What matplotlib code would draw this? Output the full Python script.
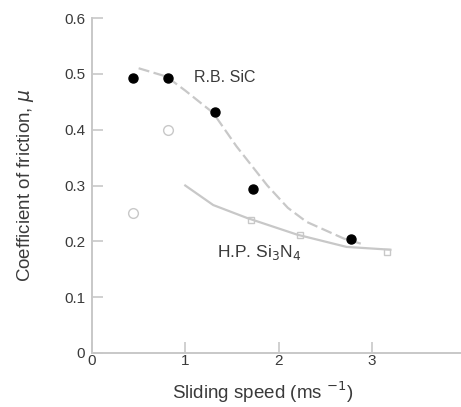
import matplotlib
matplotlib.use("Agg")
import matplotlib.pyplot as plt

# Data
sic_x = [0.44, 0.81, 1.32, 1.73, 2.78]
sic_y = [0.493, 0.493, 0.432, 0.294, 0.205]
open_circ_x = [0.44, 0.81]
open_circ_y = [0.25, 0.40]
sq_x = [1.71, 2.23, 3.16]
sq_y = [0.238, 0.211, 0.181]
sic_curve_x = [0.5, 0.8, 1.0, 1.3, 1.55, 1.88, 2.1, 2.3, 2.7, 2.9]
sic_curve_y = [0.51, 0.495, 0.47, 0.43, 0.37, 0.30, 0.26, 0.235, 0.205, 0.195]
sin_curve_x = [1.0, 1.3, 1.66, 2.2, 2.73, 3.2]
sin_curve_y = [0.30, 0.265, 0.242, 0.212, 0.19, 0.185]
xticks = [0, 1, 2, 3, 4]
yticks = [0, 0.1, 0.2, 0.3, 0.4, 0.5, 0.6]
ytick_labels = ["0", "0.1", "0.2", "0.3", "0.4", "0.5", "0.6"]

plt.rcParams['font.family'] = ['Liberation Sans', 'DejaVu Sans']
fig = plt.figure(figsize=(4.61, 4.07), dpi=100)
ax = fig.add_axes([92/461, 54/407, 373/461, 335/407])

grey = '#c8c8c8'
txt = '#3a3a3a'
ax.plot(sic_curve_x, sic_curve_y, color=grey, lw=1.6, ls=(0, (5, 2)))
ax.plot(sin_curve_x, sin_curve_y, color=grey, lw=1.6)
ax.plot(open_circ_x, open_circ_y, 'o', mfc='none', mec=grey, ms=7, mew=1.0)
ax.plot(sq_x, sq_y, 's', mfc='none', mec=grey, ms=5, mew=1.0)
ax.plot(sic_x, sic_y, 'o', color='black', ms=6.5)

ax.set_xlim(0, 4)
ax.set_ylim(0, 0.6)
ax.set_xticks(xticks)
ax.set_yticks(yticks)
ax.set_yticklabels(ytick_labels)
for s in ['top', 'right']:
    ax.spines[s].set_visible(False)
for s in ['left', 'bottom']:
    ax.spines[s].set_color(grey)
    ax.spines[s].set_linewidth(1.4)
ax.tick_params(direction='in', length=8, color=grey, width=1.2, labelsize=11, labelcolor=txt)
ax.tick_params(axis='y', pad=5)
ax.tick_params(axis='x', pad=1)

ax.text(1.09, 0.493, "R.B. SiC", fontsize=11.5, color=txt, va='center', ha='left')
ax.text(1.34, 0.18, "H.P. Si$_3$N$_4$", fontsize=12.5, color=txt, va='center', ha='left')
ax.set_xlabel("Sliding speed (ms $^{-1}$)", fontsize=13.5, color=txt)
ax.set_ylabel("Coefficient of friction, $\\mu$", fontsize=13.5, color=txt)
ax.xaxis.set_label_coords(171/373, -0.08)
ax.yaxis.set_label_coords(-0.15, 0.5)

fig.savefig("out.png", dpi=100)
